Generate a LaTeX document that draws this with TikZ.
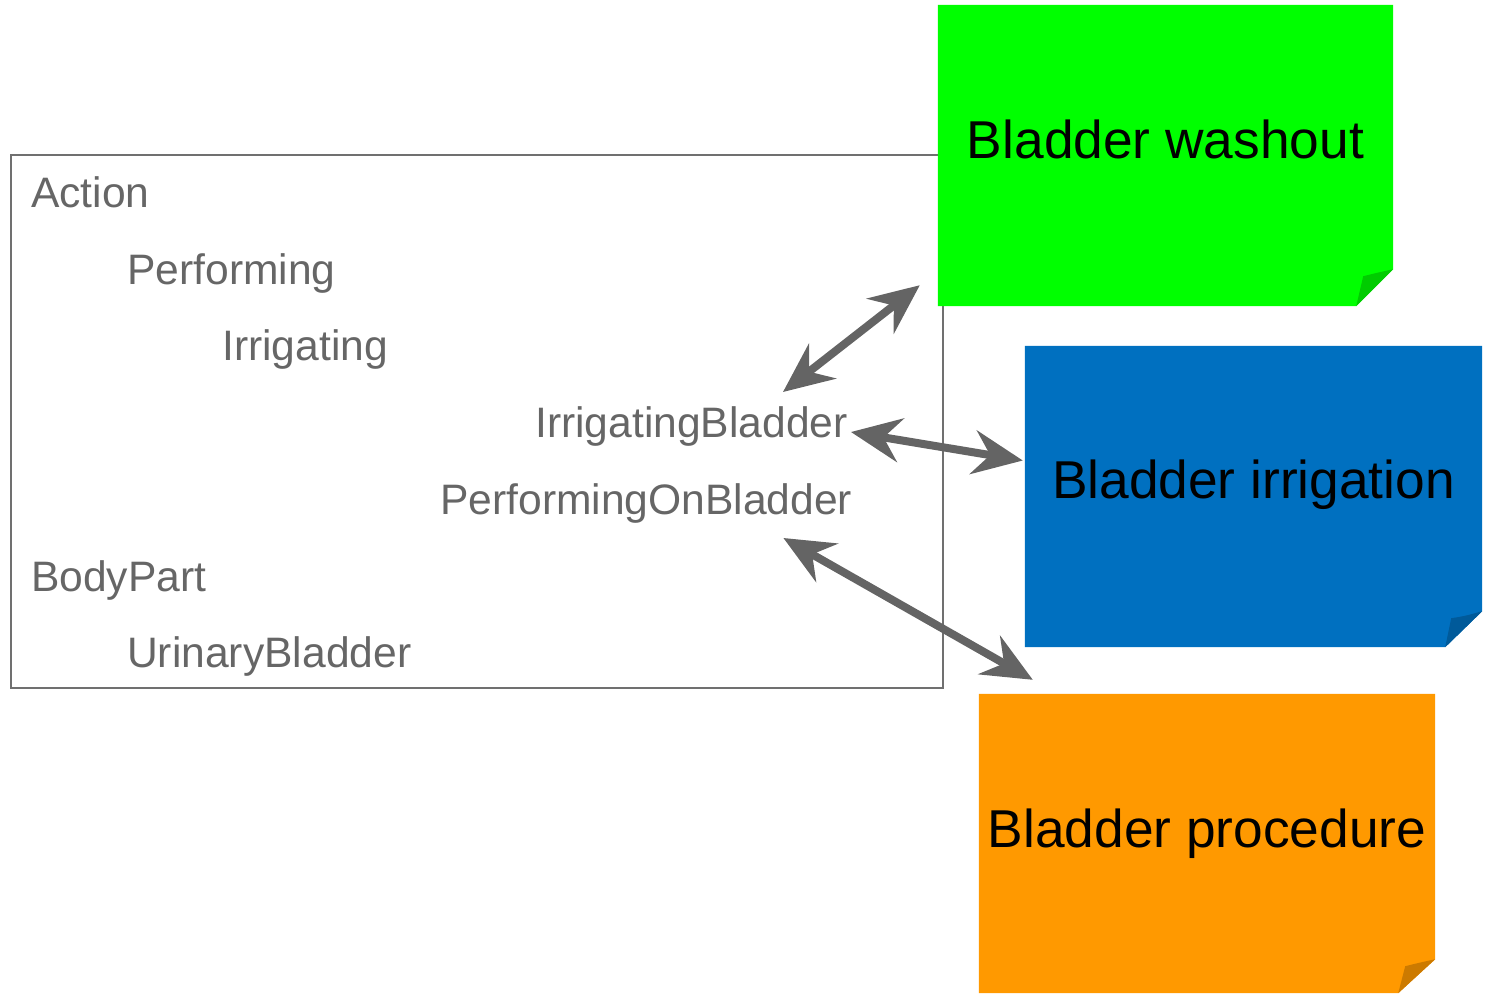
\documentclass[tikz,border=0pt]{standalone}
\usepackage{fontspec}
\setmainfont{Liberation Sans}
\usetikzlibrary{arrows.meta}
\definecolor{txtgray}{HTML}{666666}
\definecolor{boxgray}{HTML}{707070}
\definecolor{arrgray}{HTML}{646464}
\definecolor{notegreen}{HTML}{00FF00}
\definecolor{foldgreen}{HTML}{00CC00}
\definecolor{noteblue}{HTML}{0070C0}
\definecolor{foldblue}{HTML}{005A9A}
\definecolor{noteorange}{HTML}{FF9900}
\definecolor{foldorange}{HTML}{CC7A00}
\tikzset{
  lbl/.style={anchor=base west, inner sep=0pt, text=txtgray, font=\fontsize{42.6}{48}\selectfont},
  notearea/.style={rectangle, inner sep=0pt, minimum width=#1},
  notetext/.style={anchor=base, inner sep=0pt, text=black, font=\fontsize{53.3}{60}\selectfont},
  link/.style={draw=arrgray, line width=8pt,
    {Stealth[length=50pt, width=44pt, inset=17pt]}-{Stealth[length=50pt, width=44pt, inset=17pt]}}
}
\begin{document}
\begin{tikzpicture}[x=1pt, y=-1pt]
\useasboundingbox (0,0) rectangle (1487,993);

% concept tree frame
\node[draw=boxgray, line width=2pt, rectangle, inner sep=0pt,
      minimum width=932pt, minimum height=533pt] (frame) at (477,421.5) {};

\node[lbl] (action) at (31,207) {Action};
\node[lbl] (perf) at (127,284) {Performing};
\node[lbl] (irrig) at (222,360) {Irrigating};
\node[lbl] (ib) at (535,437) {IrrigatingBladder};
\node[lbl] (pob) at (440,514) {PerformingOnBladder};
\node[lbl] (body) at (31,591) {BodyPart};
\node[lbl] (urin) at (127,667) {UrinaryBladder};

% sticky notes with a folded lower right corner
\node[notearea=455pt, minimum height=301pt] (wash) at (1165.5,155.5) {};
\fill[notegreen] (wash.north west) -- (wash.north east) -- ([shift={(0,-37)}]wash.south east)
  -- ([shift={(-37,0)}]wash.south east) -- (wash.south west) -- cycle;
\fill[foldgreen] ([shift={(-37,0)}]wash.south east) -- ([shift={(0,-37)}]wash.south east)
  .. controls ([shift={(-18,-33)}]wash.south east) .. ([shift={(-30,-30)}]wash.south east) -- cycle;
\node[notetext] (washt) at ([shift={(0,3)}]wash.center) {Bladder washout};

\node[notearea=457pt, minimum height=301pt] (irr) at (1253.5,496.5) {};
\fill[noteblue] (irr.north west) -- (irr.north east) -- ([shift={(0,-36)}]irr.south east)
  -- ([shift={(-37,0)}]irr.south east) -- (irr.south west) -- cycle;
\fill[foldblue] ([shift={(-37,0)}]irr.south east) -- ([shift={(0,-36)}]irr.south east)
  .. controls ([shift={(-18,-31)}]irr.south east) .. ([shift={(-31,-29)}]irr.south east) -- cycle;
\node[notetext] (irrt) at ([shift={(0,2)}]irr.center) {Bladder irrigation};

\node[notearea=456pt, minimum height=299pt] (proc) at (1207,843.5) {};
\fill[noteorange] (proc.north west) -- (proc.north east) -- ([shift={(0,-34)}]proc.south east)
  -- ([shift={(-37,0)}]proc.south east) -- (proc.south west) -- cycle;
\fill[foldorange] ([shift={(-37,0)}]proc.south east) -- ([shift={(0,-34)}]proc.south east)
  .. controls ([shift={(-18,-30)}]proc.south east) .. ([shift={(-30,-27)}]proc.south east) -- cycle;
\node[notetext] (proct) at ([shift={(0,4)}]proc.center) {Bladder procedure};

% links between concepts and notes
\draw[link] ([shift={(-65,-45)}]ib.base east) -- ([shift={(-18,-21)}]wash.south west);
\draw[link] ([shift={(3,-5)}]ib.base east) -- ([shift={(-2,-36)}]irr.west);
\draw[link] ([shift={(-69,24)}]pob.base east) -- ([shift={(54,-14)}]proc.north west);
\end{tikzpicture}
\end{document}
